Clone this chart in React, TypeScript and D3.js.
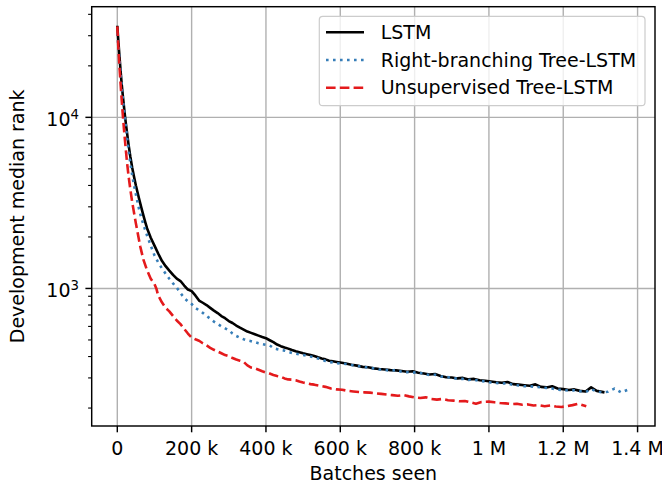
import React from "react";
import * as d3 from "d3";

// ---- data (x in thousands of batches, y = development median rank) ----
const lstmX = [0,3,6,9,12,15,18,21,25,30,35,40,45,50,55,60,65,70,75,80,90,100,110,120,130,140,150,160,170,180,190,200,210,220,230,240,250,260,270,280,290,300,310,320,330,340,350,360,370,380,390,400,410,420,430,440,450,460,470,480,490,500,510,520,530,540,550,560,570,580,590,600,615,630,645,660,675,690,705,720,735,750,765,780,795,810,825,840,855,870,885,900,915,930,945,960,975,990,1005,1020,1035,1050,1065,1080,1095,1110,1125,1140,1155,1170,1185,1200,1215,1230,1245,1260,1275,1290,1311];
const lstmY = [34300,27500,22500,18500,15500,13300,11500,10000,8500,7000,5900,5100,4500,4000,3600,3250,2950,2680,2450,2250,1980,1780,1600,1450,1350,1270,1200,1140,1105,1040,985,965,910,850,825,800,770,742,718,690,670,645,628,607,590,575,560,550,540,530,520,512,498,485,470,460,452,445,437,430,424,418,413,408,403,396,390,385,378,375,372,369,364,358,354,348,346,341,338,336,333,332,329,326,328,322,318,314,316,308,303,302,298,300,294,296,291,289,286,283,281,284,276,274,272,270,275,266,264,268,260,258,255,257,252,250,264,252,247];

const rbX = [0,3,6,9,12,15,18,21,25,30,35,40,45,50,55,60,65,70,75,80,90,100,110,120,130,140,150,160,170,180,190,200,210,220,230,240,250,260,270,280,290,300,310,320,330,340,350,360,370,380,390,400,410,420,430,440,450,460,470,480,490,500,510,520,530,540,550,560,570,580,590,600,615,630,645,660,675,690,705,720,735,750,765,780,795,810,825,840,855,870,885,900,915,930,945,960,975,990,1005,1020,1035,1050,1065,1080,1095,1110,1125,1140,1155,1170,1185,1200,1215,1230,1245,1260,1275,1290,1305,1320,1338,1356,1378];
const rbY = [31000,26000,21500,17800,15000,12800,11100,9700,8100,6500,5400,4600,4000,3550,3150,2820,2570,2380,2200,2040,1780,1560,1420,1310,1220,1140,1070,1010,940,880,840,811,770,745,720,692,665,640,620,600,585,570,545,528,515,505,497,492,486,478,473,468,465,448,442,437,433,426,420,416,412,408,404,400,395,390,384,377,372,369,366,364,362,357,352,350,344,341,336,335,330,334,326,324,322,324,316,312,313,306,304,300,297,296,292,293,288,286,282,280,278,279,273,271,268,268,266,264,262,260,256,255,253,254,251,248,258,250,247,249,260,247,258];

const unsupX = [0,3,6,9,12,15,18,22,26,30,35,40,44,50,55,62,70,80,90,100,105,110,120,130,140,150,160,170,180,190,200,210,220,230,240,250,260,270,280,290,300,310,320,330,340,350,360,370,380,390,400,410,420,430,440,450,460,470,480,490,500,510,520,530,545,560,575,590,605,620,635,650,665,680,695,710,725,740,755,770,785,800,815,830,845,860,875,890,905,920,935,950,965,980,1000,1015,1030,1045,1060,1075,1090,1105,1120,1135,1150,1165,1180,1195,1210,1225,1240,1262];
const unsupY = [34000,25000,19500,15500,12500,10200,8500,6800,5500,4600,3800,3200,2850,2400,2100,1750,1480,1280,1140,1060,1000,910,830,770,735,690,650,619,580,545,517,505,495,478,465,450,438,428,418,408,402,392,384,378,372,355,345,342,335,328,322,318,312,308,305,298,294,293,291,286,282,279,276,274,270,266,260,257,256,252,250,248,247,246,244,242,240,238,236,238,234,231,229,231,226,224,226,222,221,219,220,216,212,217,218,216,214,213,211,212,209,210,207,208,205,207,204,203,205,208,212,205];

const seriesNames = ["LSTM", "Right-branching Tree-LSTM", "Unsupervised Tree-LSTM"];
const xTicks = [0, 200, 400, 600, 800, 1000, 1200, 1400];
const xTickLabels = ["0", "200 k", "400 k", "600 k", "800 k", "1 M", "1.2 M", "1.4 M"];
const yTickExps = [3, 4];

const W = 662, H = 487;
const L = 91.7, R = 655, T = 6.7, B = 426;
const FONT = "DejaVu Sans, sans-serif";
const FS = 19;

export default function App() {
  const series = [
    { name: seriesNames[0], xs: lstmX, ys: lstmY, color: "#000000", dash: "none" },
    { name: seriesNames[1], xs: rbX, ys: rbY, color: "#377eb8", dash: "2.6 4.4" },
    { name: seriesNames[2], xs: unsupX, ys: unsupY, color: "#e41a1c", dash: "9.6 4.2" },
  ];
  const allX = series.flatMap((s) => s.xs);
  const allY = series.flatMap((s) => s.ys);
  const xmin = d3.min(allX)!, xmax = d3.max(allX)!;
  const xr = xmax - xmin;
  const x = d3.scaleLinear().domain([xmin - 0.05 * xr, xmax + 0.05 * xr]).range([L, R]);
  const lmin = Math.log10(d3.min(allY)!), lmax = Math.log10(d3.max(allY)!);
  const lr = lmax - lmin;
  const y = d3.scaleLog().domain([Math.pow(10, lmin - 0.05 * lr), Math.pow(10, lmax + 0.05 * lr)]).range([B, T]);

  const line = d3.line<[number, number]>().x((d) => x(d[0])).y((d) => y(d[1]));

  const minorTicks: number[] = [];
  for (let e = 2; e <= 4; e++) for (let m = 2; m <= 9; m++) {
    const v = m * Math.pow(10, e);
    if (v >= y.domain()[0] && v <= y.domain()[1]) minorTicks.push(v);
  }

  const legX = 319.3, legY = 16.3, legW = 325.7, legH = 89.4;

  return (
    <div style={{ position: "absolute", left: 0, top: 0 }}>
      <svg width={W} height={H} style={{ display: "block", background: "#fff" }} fontFamily={FONT}>
        <defs>
          <clipPath id="plotclip">
            <rect x={L} y={T} width={R - L} height={B - T} />
          </clipPath>
        </defs>
        {/* grid */}
        {xTicks.map((t) => (
          <line key={"gx" + t} x1={x(t)} x2={x(t)} y1={T} y2={B} stroke="#b0b0b0" strokeWidth={1.4} />
        ))}
        {yTickExps.map((e) => (
          <line key={"gy" + e} x1={L} x2={R} y1={y(Math.pow(10, e))} y2={y(Math.pow(10, e))} stroke="#b0b0b0" strokeWidth={1.4} />
        ))}
        {/* series */}
        <g clipPath="url(#plotclip)">
          {series.map((s) => (
            <path
              key={s.name}
              d={line(s.xs.map((v, i) => [v, s.ys[i]] as [number, number])) || ""}
              fill="none"
              stroke={s.color}
              strokeWidth={2.6}
              strokeDasharray={s.dash}
              strokeLinejoin="round"
            />
          ))}
        </g>
        {/* spines */}
        <rect x={L} y={T} width={R - L} height={B - T} fill="none" stroke="#000" strokeWidth={1.45} />
        {/* x ticks */}
        {xTicks.map((t, i) => (
          <g key={"xt" + t}>
            <line x1={x(t)} x2={x(t)} y1={B} y2={B + 6.3} stroke="#000" strokeWidth={1.45} />
            <text x={x(t)} y={455} textAnchor="middle" fontSize={FS} fill="#000">{xTickLabels[i]}</text>
          </g>
        ))}
        {/* y ticks */}
        {minorTicks.map((v) => (
          <line key={"ym" + v} x1={L - 3.6} x2={L} y1={y(v)} y2={y(v)} stroke="#000" strokeWidth={1.1} />
        ))}
        {yTickExps.map((e) => (
          <g key={"yt" + e}>
            <line x1={L - 6.3} x2={L} y1={y(Math.pow(10, e))} y2={y(Math.pow(10, e))} stroke="#000" strokeWidth={1.45} />
            <text x={79} y={y(Math.pow(10, e)) + 8.5} textAnchor="end" fontSize={FS} fill="#000">
              10<tspan fontSize={13.3} dy={-6.5}>{e}</tspan>
            </text>
          </g>
        ))}
        {/* axis labels */}
        <text x={(L + R) / 2} y={480} textAnchor="middle" fontSize={FS} fill="#000">Batches seen</text>
        <text transform={`translate(24, ${(T + B) / 2}) rotate(-90)`} textAnchor="middle" fontSize={FS} fill="#000">
          Development median rank
        </text>
        {/* legend */}
        <rect x={legX} y={legY} width={legW} height={legH} rx={3.5} fill="#fff" fillOpacity={0.8} stroke="#cccccc" strokeWidth={1.2} />
        {series.map((s, i) => {
          const cy = 32.3 + i * 27.7;
          return (
            <g key={"lg" + i}>
              <line x1={326} x2={364} y1={cy} y2={cy} stroke={s.color} strokeWidth={2.6} strokeDasharray={s.dash} />
              <text x={380.7} y={38.9 + i * 27.7} fontSize={FS} fill="#000">{s.name}</text>
            </g>
          );
        })}
      </svg>
    </div>
  );
}
